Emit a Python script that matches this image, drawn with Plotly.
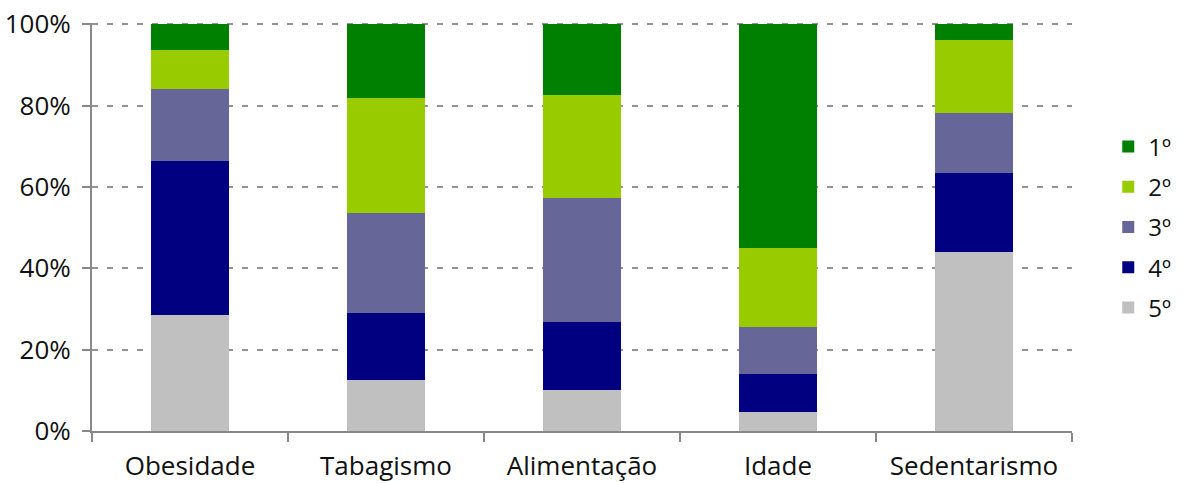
import plotly.graph_objects as go

categories = ["Obesidade", "Tabagismo", "Alimentação", "Idade", "Sedentarismo"]
series_names = ["5º", "4º", "3º", "2º", "1º"]
v5 = [28.4, 12.5, 10.0, 4.7, 43.9]
v4 = [38.0, 16.4, 16.7, 9.3, 19.6]
v3 = [17.7, 24.8, 30.6, 11.5, 14.7]
v2 = [9.5, 28.2, 25.3, 19.6, 17.9]
v1 = [6.4, 18.1, 17.4, 54.9, 3.9]
series_values = [v5, v4, v3, v2, v1]
colors = ["#C0C0C0", "#000080", "#666699", "#99CC00", "#008000"]
y_ticks = [0, 20, 40, 60, 80, 100]
y_tick_labels = ["0%", "20%", "40%", "60%", "80%", "100%"]

FONT = "Open Sans"
FS = 26

fig = go.Figure()
for i, (name, vals, col) in enumerate(zip(series_names, series_values, colors)):
    fig.add_trace(go.Bar(
        x=categories, y=vals, name=name, marker_color=col,
        marker_line_width=0, legendgroup=name,
        legendrank=1000 - i,
    ))

fig.update_layout(
    barmode="stack",
    bargap=0.597,
    width=1185, height=483,
    margin=dict(l=92, r=113, t=23, b=52, autoexpand=False),
    plot_bgcolor="white", paper_bgcolor="white",
    font=dict(family=FONT, size=FS, color="#111"),
    legend=dict(
        x=1.037, y=0.5, xanchor="left", yanchor="middle",
        traceorder="grouped", tracegroupgap=6,
        font=dict(size=FS - 2, family=FONT),
    ),
    xaxis=dict(
        type="category", range=[-0.5, 4.5], tickson="boundaries",
        ticks="outside", ticklen=9, tickwidth=2, tickcolor="#888",
        showline=True, linecolor="#888", linewidth=2,
        showgrid=False, tickfont=dict(size=FS, family=FONT),
        ticklabelstandoff=11,
    ),
    yaxis=dict(
        range=[0, 100.3], tickvals=y_ticks, ticktext=y_tick_labels,
        ticks="outside", ticklen=8, tickwidth=2, tickcolor="#888",
        showline=True, linecolor="#888", linewidth=2,
        showgrid=True, gridcolor="#939393", gridwidth=2, griddash="6px,9px",
        zeroline=False, tickfont=dict(size=FS, family=FONT),
        ticklabelstandoff=6,
    ),
)

fig.write_html("out.html")
